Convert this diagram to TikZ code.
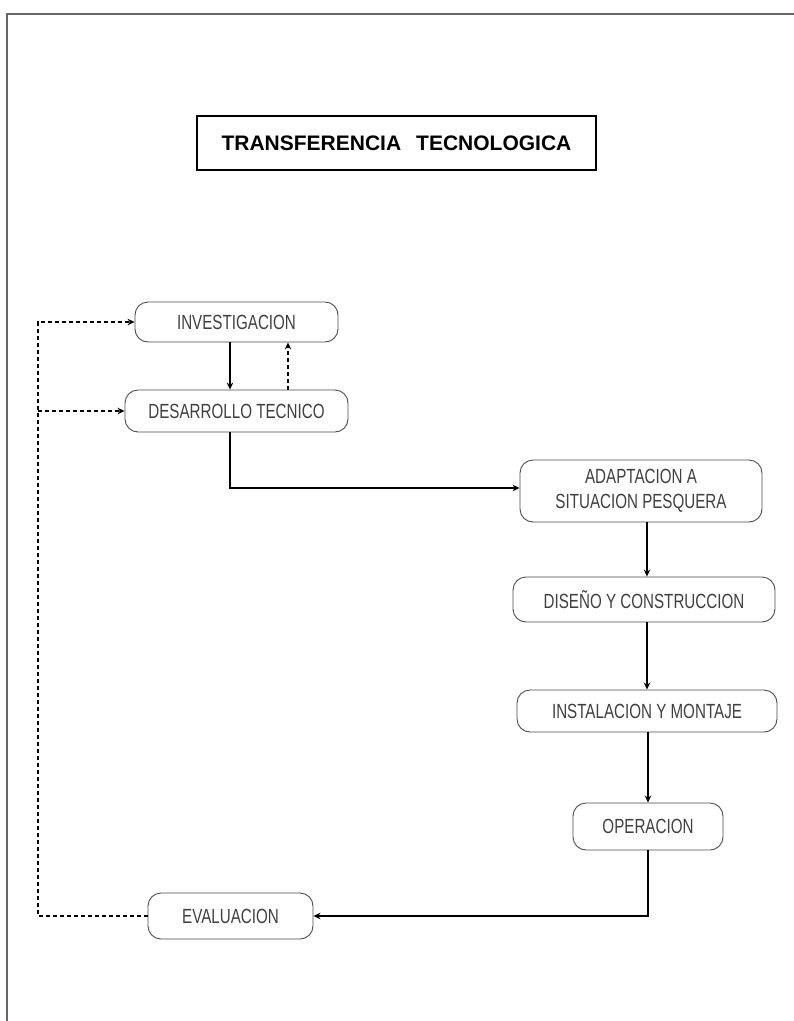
\documentclass[tikz,border=0pt]{standalone}
\usepackage{fontspec}
\usetikzlibrary{arrows.meta}
\newfontfamily\plotfont{Liberation Sans}[FakeStretch=0.74]
\newfontfamily\titlefont{Liberation Sans}
\begin{document}
\begin{tikzpicture}[x=1pt,y=-1pt,
  stage/.style={draw=black!70,line width=0.9pt,rounded corners=13pt,
    text=black!75,font=\plotfont\fontsize{20.5}{25}\selectfont,align=center,
    inner sep=0pt},
  flow/.style={line width=2.6pt,-{Stealth[length=7pt,width=6.5pt]}},
  fb/.style={line width=2.6pt,dash pattern=on 4pt off 3pt,-{Stealth[length=7pt,width=6.5pt]}}]
\useasboundingbox (0,0) rectangle (794,1021);
\fill[white] (0,0) rectangle (794,1021);
% page frame
\draw[black!60,line width=1.4pt] (7,1021) -- (7,14) -- (794,14);
% title
\node[draw=black,line width=1.8pt,minimum width=399pt,minimum height=54pt,inner sep=0pt,
  font=\titlefont\bfseries\fontsize{21}{25}\selectfont] (title) at (396.5,143)
  {TRANSFERENCIA\hspace{15pt}TECNOLOGICA};
% stages
\node[stage,minimum width=203pt,minimum height=40pt] (inv) at (236.5,322) {INVESTIGACION};
\node[stage,minimum width=223pt,minimum height=42pt] (des) at (236.5,411) {DESARROLLO TECNICO};
\node[stage,minimum width=242pt,minimum height=62pt] (ada) at (641,491) {ADAPTACION A\\SITUACION PESQUERA};
\node[stage,minimum width=262pt,minimum height=45pt] (dis) at (644,599.5) {DISEÑO Y CONSTRUCCION};
\node[stage,minimum width=260pt,minimum height=42pt] (ins) at (647,711) {INSTALACION Y MONTAJE};
\node[stage,minimum width=150pt,minimum height=47pt] (ope) at (648,826.5) {OPERACION};
\node[stage,minimum width=165pt,minimum height=46pt] (eva) at (230.5,916) {EVALUACION};
% helper coordinates
\coordinate (cx) at (230,0);
\coordinate (ux) at (288,0);
\coordinate (vx) at (647,0);
\coordinate (lx) at (38,0);
\coordinate (hy) at (0,488);
% connectors
\draw[flow] (inv.south -| cx) -- (des.north -| cx);
\draw[fb] (des.north -| ux) -- (inv.south -| ux);
\draw[flow] (des.south -| cx) -- (cx |- hy) -- (ada.west |- hy);
\draw[flow] (ada.south -| vx) -- (dis.north -| vx);
\draw[flow] (dis.south -| vx) -- (ins.north -| vx);
\draw[flow] (ins.south -| ope) -- (ope.north);
\draw[flow] (ope.south) |- (eva.east);
\draw[fb] (eva.west) -| (lx |- inv.west) -- (inv.west);
\draw[fb] (lx |- des.west) -- (des.west);
\end{tikzpicture}
\end{document}
